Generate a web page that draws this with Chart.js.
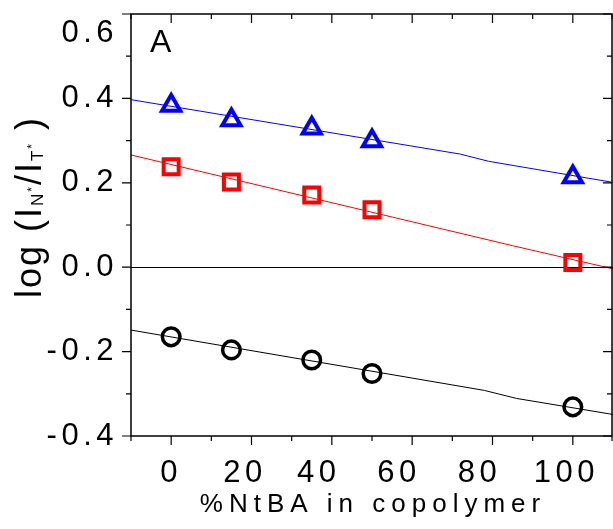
<!DOCTYPE html>
<html>
<head>
<meta charset="utf-8">
<script src="https://cdn.jsdelivr.net/npm/chart.js@4.4.1/dist/chart.umd.min.js"></script>
<style>
  html, body { margin: 0; padding: 0; background: #fff; }
  canvas { display: block; }
</style>
</head>
<body>
<canvas id="chart" width="613" height="529"></canvas>
<script>
// values
const copolymerPct = [0, 15, 35, 50, 100];
const triangleVals = [0.383, 0.349, 0.329, 0.299, 0.214];
const squareVals = [0.238, 0.202, 0.171, 0.136, 0.011];
const circleVals = [-0.165, -0.196, -0.220, -0.252, -0.331];

// fitted lines, as drawn in the figure
const blueFitX = [-10, 72, 79, 110];
const blueFitY = [0.397, 0.268, 0.251, 0.201];
const redFitX = [-10, 85, 110];
const redFitY = [0.266, 0.051, -0.004];
const blackFitX = [-10, 78, 86, 110];
const blackFitY = [-0.149, -0.292, -0.311, -0.349];

const xTickLabels = [0, 20, 40, 60, 80, 100];
const xMinorTicks = [-10, 10, 30, 50, 70, 90, 110];
const yTickLabels = [-0.4, -0.2, 0, 0.2, 0.4, 0.6];
const yMinorTicks = [-0.3, -0.1, 0.1, 0.3, 0.5];

const FONT = '"Liberation Sans", Arial, sans-serif';
const pts = (xs, ys) => xs.map((x, i) => ({ x: x, y: ys[i] }));

// labels in the figure sit a little left of their ticks
const xLabelPad = { 20: ' ', 40: '  ', 60: '  ', 80: '  ', 100: ' ' };

const spacing = {
  id: 'spacing',
  beforeDraw(chart) { chart.ctx.letterSpacing = '4.5px'; }
};

const frame = {
  id: 'frame',
  afterDraw(chart) {
    const { ctx, chartArea: a, scales: { x, y } } = chart;
    ctx.save();
    ctx.strokeStyle = '#000';
    ctx.lineWidth = 1.5;
    ctx.strokeRect(a.left, a.top, a.right - a.left - 1, a.bottom - a.top);

    ctx.lineWidth = 1.2;
    ctx.beginPath();
    const seg = (x0, y0, x1, y1) => { ctx.moveTo(x0, y0); ctx.lineTo(x1, y1); };
    const r = a.right - 1;
    xTickLabels.forEach(v => {
      const px = x.getPixelForValue(v);
      seg(px, a.bottom, px, a.bottom + 9);
      seg(px, a.top, px, a.top + 9);
    });
    xMinorTicks.forEach(v => {
      const px = Math.min(x.getPixelForValue(v), r);
      seg(px, a.bottom, px, a.bottom + 5);
      seg(px, a.top, px, a.top + 5);
    });
    yTickLabels.forEach(v => {
      const py = y.getPixelForValue(v);
      seg(a.left - 9, py, a.left, py);
      seg(r, py, r - 9, py);
    });
    yMinorTicks.forEach(v => {
      const py = y.getPixelForValue(v);
      seg(a.left - 5, py, a.left, py);
      seg(r, py, r - 5, py);
    });
    ctx.stroke();

    ctx.fillStyle = '#000';
    ctx.textBaseline = 'alphabetic';
    ctx.letterSpacing = '0px';
    ctx.textAlign = 'left';
    ctx.font = '32px ' + FONT;
    ctx.fillText('A', 150, 52);

    // x axis title
    ctx.letterSpacing = '6px';
    ctx.textAlign = 'center';
    ctx.font = '26px ' + FONT;
    ctx.fillText('%NtBA in copolymer', (a.left + a.right) / 2 + 1, 512);

    // y axis title with subscripts
    ctx.textAlign = 'left';
    const parts = [
      ['log (I', 36, 0], ['N', 17, 2], ['*', 12, -5],
      ['/I', 36, 0], ['T', 17, 2], ['*', 12, -5], [' )', 36, 0]
    ];
    ctx.letterSpacing = '2px';
    let total = 0;
    parts.forEach(p => {
      ctx.font = p[1] + 'px ' + FONT;
      p.push(ctx.measureText(p[0]).width);
      total += p[3];
    });
    ctx.translate(41, 207);
    ctx.rotate(-Math.PI / 2);
    let cx = -total / 2;
    parts.forEach(p => {
      ctx.font = p[1] + 'px ' + FONT;
      ctx.fillText(p[0], cx, p[2]);
      cx += p[3];
    });
    ctx.restore();
  }
};

Chart.defaults.color = '#000';
Chart.defaults.font.family = FONT;

new Chart(document.getElementById('chart'), {
  type: 'scatter',
  data: {
    datasets: [
      { data: pts(copolymerPct, triangleVals), pointStyle: 'triangle', pointRadius: 10.5,
        borderColor: '#0000ff', backgroundColor: 'rgba(0,0,0,0)', pointBorderWidth: 4 },
      { data: pts(copolymerPct, squareVals), pointStyle: 'rect', pointRadius: 10.6,
        borderColor: '#ff0000', backgroundColor: 'rgba(0,0,0,0)', pointBorderWidth: 4 },
      { data: pts(copolymerPct, circleVals), pointStyle: 'circle', pointRadius: 8.8,
        borderColor: '#000', backgroundColor: 'rgba(0,0,0,0)', pointBorderWidth: 3.5 },
      { data: pts(blueFitX, blueFitY), showLine: true, pointRadius: 0, borderColor: '#0000ff', borderWidth: 1 },
      { data: pts(redFitX, redFitY), showLine: true, pointRadius: 0, borderColor: '#ff0000', borderWidth: 1 },
      { data: pts(blackFitX, blackFitY), showLine: true, pointRadius: 0, borderColor: '#000', borderWidth: 1 }
    ]
  },
  options: {
    responsive: false,
    animation: false,
    layout: { autoPadding: false, padding: { top: 14, left: 0, right: 0, bottom: 0 } },
    plugins: { legend: { display: false }, tooltip: { enabled: false } },
    scales: {
      x: {
        type: 'linear', min: -10, max: 110,
        afterBuildTicks: s => { s.ticks = xTickLabels.map(v => ({ value: v })); },
        afterFit: s => { s.height = 93; s.paddingLeft = 0; s.paddingRight = 0; },
        grid: { display: false },
        border: { display: false },
        ticks: {
          autoSkip: false, maxRotation: 0, padding: 11,
          font: { size: 31 },
          callback: v => String(v) + (xLabelPad[v] || '')
        }
      },
      y: {
        type: 'linear', min: -0.4, max: 0.6,
        afterBuildTicks: s => { s.ticks = yTickLabels.map(v => ({ value: v })); },
        afterFit: s => { s.width = 131; s.paddingTop = 0; s.paddingBottom = 0; },
        grid: {
          drawTicks: false,
          lineWidth: 1,
          color: c => (c.tick && c.tick.value === 0) ? '#000' : 'rgba(0,0,0,0)'
        },
        border: { display: false },
        ticks: {
          autoSkip: false, padding: 13,
          font: { size: 31, lineHeight: 1.24 },
          callback: v => v === 0.6 ? ['', v.toFixed(1)] : v.toFixed(1)
        }
      }
    }
  },
  plugins: [spacing, frame]
});
</script>
</body>
</html>
